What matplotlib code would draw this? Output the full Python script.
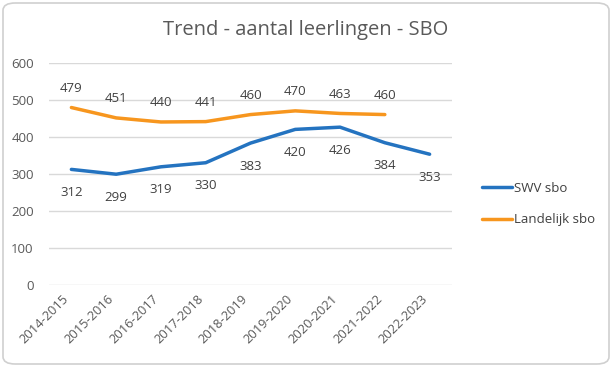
import matplotlib
matplotlib.use('Agg')
import matplotlib.pyplot as plt
from matplotlib.patches import FancyBboxPatch

# data
years = ['2014-2015', '2015-2016', '2016-2017', '2017-2018', '2018-2019',
         '2019-2020', '2020-2021', '2021-2022', '2022-2023']
swv_sbo = [312, 299, 319, 330, 383, 420, 426, 384, 353]
landelijk_sbo = [479, 451, 440, 441, 460, 470, 463, 460]

blue = '#2473C0'
orange = '#F7961E'
text_col = '#595959'

plt.rcParams['font.family'] = ['Open Sans', 'DejaVu Sans']

fig = plt.figure(figsize=(6.12, 3.67), dpi=100)

# rounded outer border
border = FancyBboxPatch((3 / 612, 3 / 367), 606 / 612, 361 / 367,
                        boxstyle='round,pad=0,rounding_size=0.02',
                        transform=fig.transFigure, facecolor='white',
                        edgecolor='#D0D0D0', linewidth=1.2, zorder=-10)
fig.patches.append(border)

ax = fig.add_axes([49 / 612, 1 - 285 / 367, 403 / 612, 222.3 / 367])
ax.set_facecolor('none')

x = list(range(len(years)))
ax.plot(x, swv_sbo, color=blue, lw=2.5, label='SWV sbo', solid_capstyle='round')
ax.plot(x[:len(landelijk_sbo)], landelijk_sbo, color=orange, lw=2.5,
        label='Landelijk sbo', solid_capstyle='round')

# data labels
for xi, v in zip(x, swv_sbo):
    ax.annotate(str(v), (xi, v), xytext=(0, -16.5), textcoords='offset points',
                ha='center', va='center', fontsize=9.5, color='#404040')
for xi, v in zip(x, landelijk_sbo):
    ax.annotate(str(v), (xi, v), xytext=(0, 14), textcoords='offset points',
                ha='center', va='center', fontsize=9.5, color='#404040')

ax.set_xlim(-0.5, len(years) - 0.5)
ax.set_ylim(0, 600)
ax.set_yticks(range(0, 601, 100))
ax.set_xticks(x)
ax.set_xticklabels(years, rotation=45, ha='right', fontsize=9.3, color=text_col)
ax.tick_params(axis='y', labelsize=9.5, colors=text_col, length=0, pad=11)
ax.tick_params(axis='x', length=0, pad=5)
ax.grid(axis='y', color='#D9D9D9', lw=1)
ax.set_axisbelow(True)
for s in ax.spines.values():
    s.set_visible(False)

fig.text(0.5, 1 - 30 / 367, 'Trend - aantal leerlingen - SBO', ha='center', va='center',
         fontsize=14.5, color=text_col)

ax.legend(loc='center left', bbox_to_anchor=(470 / 612, 1 - 204 / 367),
          bbox_transform=fig.transFigure, frameon=False, fontsize=9.5,
          labelcolor='#404040', handlelength=2.3, handletextpad=0.15,
          labelspacing=1.4)

fig.savefig('out.png', dpi=100)
